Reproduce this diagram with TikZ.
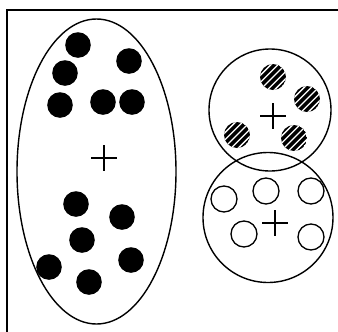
\documentclass[tikz,border=0pt]{standalone}
\begin{document}
\begin{tikzpicture}[x=1bp,y=-1bp,
  outline/.style={line width=1.4bp,black},
  crossmark/.style={line width=1.1bp,black},
  solid dot/.style={fill=black},
  open dot/.style={line width=1.3bp,draw=black,fill=white}]
\useasboundingbox (0,0) rectangle (338,332);
\fill[white] (0,0) rectangle (338,332);
% frame
\draw[outline] (7,332) -- (7,10) -- (338,10);
% clusters
\draw[outline] (96.5,171.5) ellipse [x radius=79.5, y radius=152.5];
\draw[outline] (270,110) circle [radius=61];
\draw[outline] (268,217.5) circle [radius=65];
% centres
\newcommand\plusmark[2]{\draw[crossmark] (#1-13,#2) -- (#1+13,#2) (#1,#2-13) -- (#1,#2+13);}
\plusmark{104}{158}
\plusmark{273}{116}
\plusmark{275}{223}
% black dots
\foreach \px/\py in {78/45,65/73,129/61,60/105,103/102,132/102,76/204,122/217,82/240,49/267,131/260,89/282}
  \fill[solid dot] (\px,\py) circle [radius=12.8];
% hatched dots
\foreach \px/\py in {273/77,307/99,237/135,294/138}{
  \begin{scope}
    \clip (\px,\py) circle [radius=13];
    \fill[black] (\px,\py) circle [radius=13];
    \foreach \k in {-3,...,3}
      \draw[white,line width=1.3bp] (\px+\k*3.6-20,\py+\k*3.6+20) -- (\px+\k*3.6+20,\py+\k*3.6-20);
  \end{scope}}
% open dots
\foreach \px/\py in {224/199,266/191,311/191,244/234,311/237}
  \draw[open dot] (\px,\py) circle [radius=13];
\end{tikzpicture}
\end{document}
